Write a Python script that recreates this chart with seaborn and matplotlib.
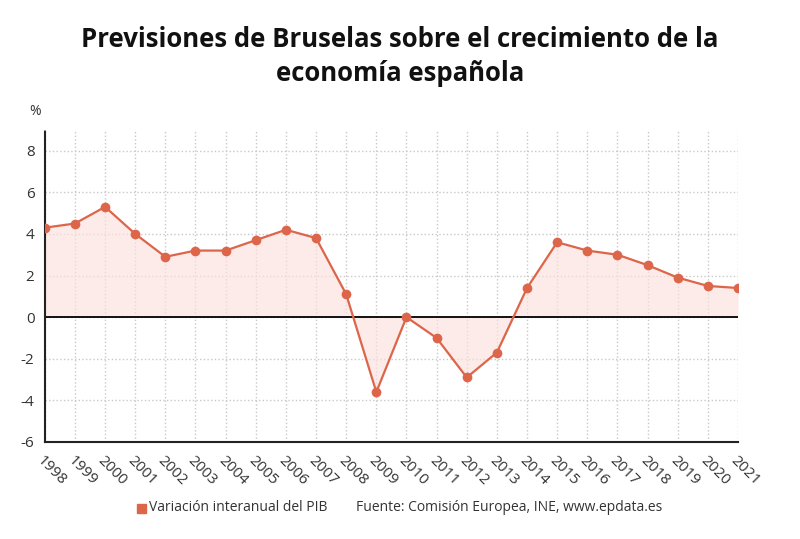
import numpy as np
import matplotlib
matplotlib.use('Agg')
import matplotlib.pyplot as plt
import pandas as pd
import seaborn as sns

years = list(range(1998, 2022))
pib = [4.3, 4.5, 5.3, 4.0, 2.9, 3.2, 3.2, 3.7, 4.2, 3.8, 1.1, -3.6,
       0.0, -1.0, -2.9, -1.7, 1.4, 3.6, 3.2, 3.0, 2.5, 1.9, 1.5, 1.4]
yticks = [-6, -4, -2, 0, 2, 4, 6, 8]

title = 'Previsiones de Bruselas sobre el crecimiento de la\neconomía española'
serie = 'Variación interanual del PIB'
fuente = 'Fuente: Comisión Europea, INE, www.epdata.es'

df = pd.DataFrame({'year': years, 'pib': pib})

sns.set_theme(style='white')
plt.rcParams['font.family'] = ['Open Sans', 'DejaVu Sans']
plt.rcParams['axes.unicode_minus'] = False

col = '#dc654a'
fig = plt.figure(figsize=(8, 5.39), dpi=100)
ax = fig.add_axes([0.056, 0.18, 0.8665, 0.579])

ax.fill_between(df['year'], df['pib'], 0, color='#fbe1dc', alpha=0.65, lw=0)
ax.axhline(0, color='black', lw=1.3, zorder=2)
sns.lineplot(data=df, x='year', y='pib', ax=ax, color=col, lw=1.6,
             marker='o', markersize=7, markeredgewidth=0, zorder=3)

ax.set_xlim(1998, 2021)
ax.set_ylim(-6, 9)
ax.set_yticks(yticks)
ax.set_xticks(years)
ax.set_xticklabels([str(y) for y in years], rotation=-45, ha='left',
                   va='top', rotation_mode='anchor', fontsize=11, color='#333333')
ax.tick_params(axis='y', labelsize=11, labelcolor='#333333', length=4, color='#333333')
ax.tick_params(axis='x', length=4, color='#333333', pad=4)
ax.grid(True, color='#c8c8c8', linestyle=':', lw=1)
ax.set_axisbelow(True)
ax.set_xlabel('')
ax.set_ylabel('')

for s in ['top', 'right']:
    ax.spines[s].set_visible(False)
for s in ['left', 'bottom']:
    ax.spines[s].set_linestyle((0, (1, 1)))
    ax.spines[s].set_color('#222222')
    ax.spines[s].set_linewidth(1.5)

fig.text(0.036, 0.793, '%', fontsize=10, color='#333333', ha='left', va='center')
fig.text(0.5, 0.895, title, fontsize=18.5, fontweight='bold', ha='center',
         va='center', color='#111111', linespacing=1.35)

fig.patches.append(matplotlib.patches.Rectangle((0.171, 0.048), 0.012, 0.0178,
                   transform=fig.transFigure, color=col, figure=fig))
fig.text(0.186, 0.058, serie, fontsize=10, color='#333333', va='center')
fig.text(0.445, 0.058, fuente, fontsize=10, color='#333333', va='center')

fig.savefig('out.png', dpi=100)
